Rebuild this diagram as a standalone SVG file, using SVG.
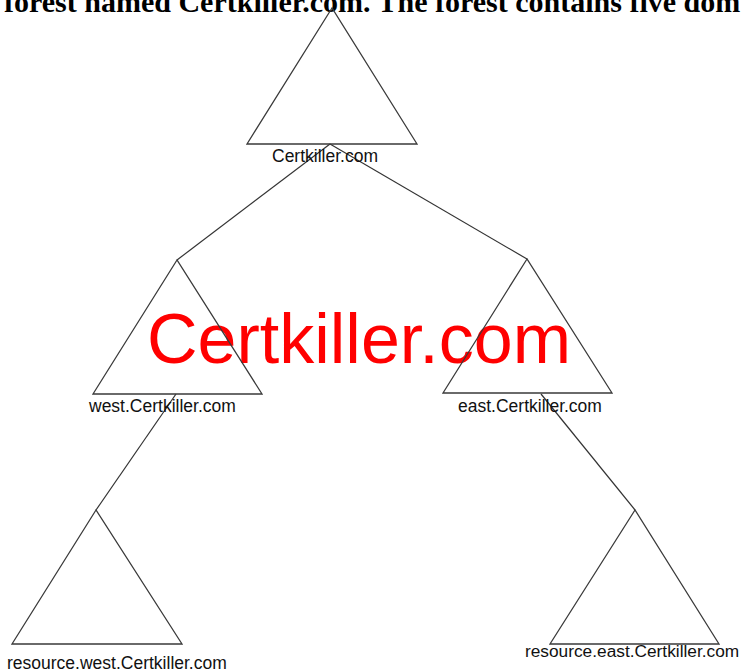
<svg xmlns="http://www.w3.org/2000/svg" width="742" height="672" viewBox="0 0 742 672">
<style>
.tri{fill:none;stroke:#3a3a3a;stroke-width:1.3;stroke-linejoin:miter}
.lbl{font-family:"Liberation Sans",Arial,sans-serif;font-size:17.5px;fill:#111}
.con{stroke:#333;stroke-width:1.2;fill:none}
</style>
<rect width="742" height="672" fill="#fff"/>
<text x="4" y="12" font-family="'Liberation Serif','Times New Roman',serif" font-weight="bold" font-size="30" fill="#000">forest named Certkiller.com. The forest contains five dom</text>
<text x="147" y="363" font-family="'Liberation Sans',Arial,sans-serif" font-size="70" fill="#ff0000">Certkiller.com</text>
<g id="connectors">
<line class="con" x1="330" y1="144" x2="177" y2="260"/>
<line class="con" x1="330" y1="144" x2="527" y2="259"/>
<line class="con" x1="176" y1="394" x2="96" y2="510"/>
<line class="con" x1="541" y1="394" x2="635" y2="510"/>
</g>
<g id="root">
<polygon class="tri" points="332,8 247,144 417,144"/>
<text class="lbl" x="272" y="162">Certkiller.com</text>
</g>
<g id="west">
<polygon class="tri" points="177,260 93,394 262,394"/>
<text class="lbl" x="89" y="412">west.Certkiller.com</text>
</g>
<g id="east">
<polygon class="tri" points="527,259 443,393 612,393"/>
<text class="lbl" x="458" y="412">east.Certkiller.com</text>
</g>
<g id="resource-west">
<polygon class="tri" points="96,510 12,644 182,644"/>
<text class="lbl" x="7" y="669">resource.west.Certkiller.com</text>
</g>
<g id="resource-east">
<polygon class="tri" points="635,510 550,644 719,644"/>
<text class="lbl" x="525" y="657" style="font-size:17.3px">resource.east.Certkiller.com</text>
</g>
</svg>
